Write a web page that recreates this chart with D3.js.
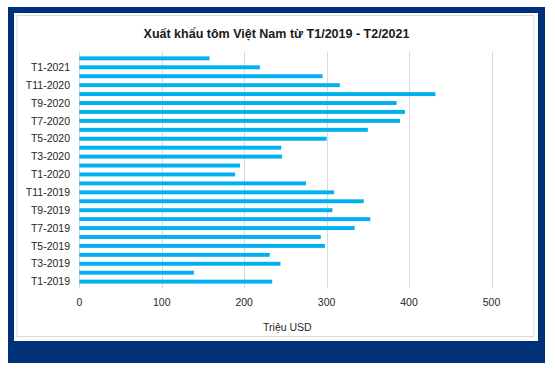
<!DOCTYPE html>
<html>
<head>
<meta charset="utf-8">
<script src="https://cdn.jsdelivr.net/npm/d3@7"></script>
<style>
  body { margin: 0; background: #fff; }
  svg { display: block; font-family: "Liberation Sans", Arial, sans-serif; }
</style>
</head>
<body>
<script>
// months, oldest first
const months = ["T1-2019","T2-2019","T3-2019","T4-2019","T5-2019","T6-2019",
                "T7-2019","T8-2019","T9-2019","T10-2019","T11-2019","T12-2019",
                "T1-2020","T2-2020","T3-2020","T4-2020","T5-2020","T6-2020",
                "T7-2020","T8-2020","T9-2020","T10-2020","T11-2020","T12-2020",
                "T1-2021","T2-2021"];
const values = [234, 139, 244, 231, 298, 293,
                334, 353, 307, 345, 309, 275,
                189, 195, 246, 245, 300, 350,
                389, 395, 385, 432, 316, 295,
                219, 158];
const xTicks = [0, 100, 200, 300, 400, 500];
const titleText = "Xuất khẩu tôm Việt Nam từ T1/2019 - T2/2021";
const axisTitle = "Triệu USD";

const W = 555, H = 370;
const svg = d3.select("body").append("svg")
  .attr("width", W).attr("height", H);

// frame
svg.append("rect").attr("x", 8).attr("y", 7).attr("width", 537).attr("height", 356)
  .attr("fill", "#00307a");
svg.append("rect").attr("x", 14).attr("y", 13).attr("width", 524).attr("height", 328)
  .attr("fill", "#fff");
svg.append("rect").attr("x", 17).attr("y", 15.5).attr("width", 517).attr("height", 321)
  .attr("fill", "#fff").attr("stroke", "#d9d9d9").attr("stroke-width", 1);

const x = d3.scaleLinear().domain([0, 500]).range([79.3, 491.5]);
const y = d3.scaleBand().domain(months.slice().reverse()).range([51.4, 288.6]).padding(0.56);

// gridlines
svg.append("g").selectAll("line")
  .data(xTicks)
  .join("line")
    .attr("x1", d => Math.round(x(d)) + 0.5)
    .attr("x2", d => Math.round(x(d)) + 0.5)
    .attr("y1", 51.4).attr("y2", 288.6)
    .attr("stroke", "#d9d9d9").attr("stroke-width", 1);

// bars
svg.append("g").selectAll("rect")
  .data(months)
  .join("rect")
    .attr("x", x(0))
    .attr("y", d => y(d))
    .attr("width", (d, i) => x(values[i]) - x(0))
    .attr("height", y.bandwidth())
    .attr("fill", "#00b0f0");

// y labels, every other month
svg.append("g")
  .attr("font-size", "10.5px").attr("fill", "#262626")
  .selectAll("text")
  .data(months.filter((d, i) => i % 2 === 0))
  .join("text")
    .attr("x", 70)
    .attr("y", d => y(d) + y.bandwidth() / 2)
    .attr("dy", "0.35em")
    .attr("text-anchor", "end")
    .text(d => d);

// x tick labels
svg.append("g")
  .attr("font-size", "10.5px").attr("fill", "#262626")
  .selectAll("text")
  .data(xTicks)
  .join("text")
    .attr("x", d => x(d))
    .attr("y", 306)
    .attr("text-anchor", "middle")
    .text(d => d);

svg.append("text")
  .attr("x", (x(0) + x(500)) / 2 + 2)
  .attr("y", 331)
  .attr("text-anchor", "middle")
  .attr("font-size", "10.5px").attr("fill", "#262626")
  .text(axisTitle);

svg.append("text")
  .attr("x", 276.5)
  .attr("y", 37.5)
  .attr("text-anchor", "middle")
  .attr("font-size", "12.5px").attr("font-weight", "bold").attr("fill", "#1a1a1a")
  .text(titleText);
</script>
</body>
</html>
